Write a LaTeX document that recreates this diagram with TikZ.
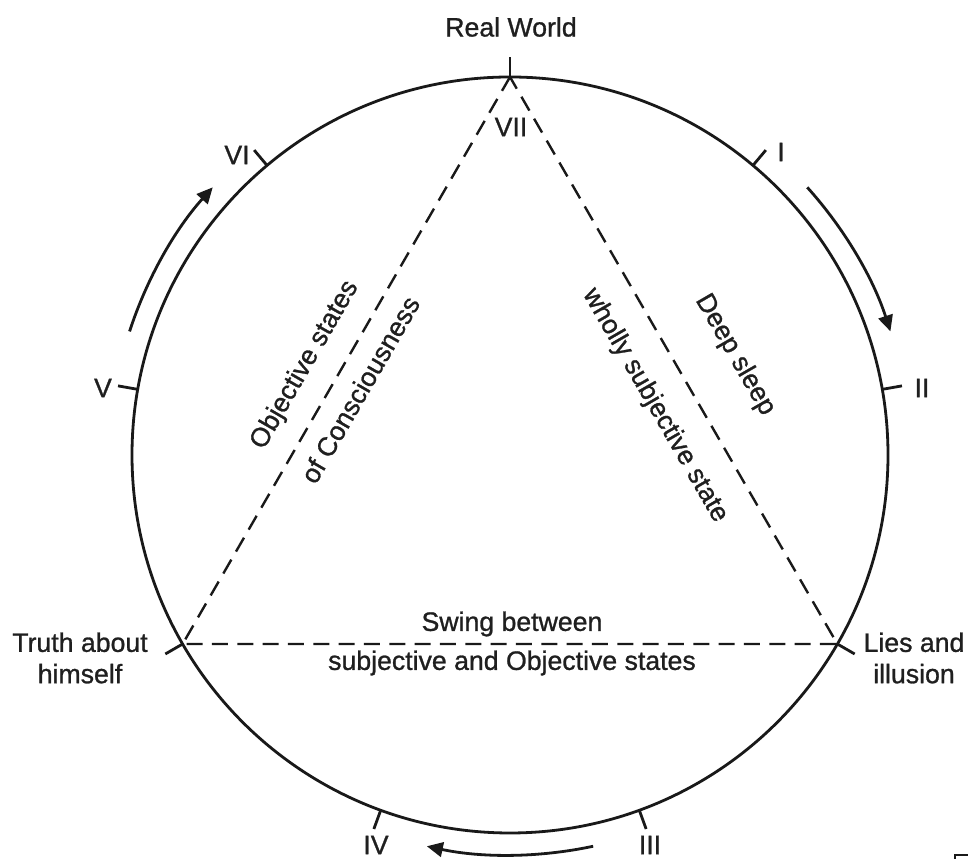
\documentclass[tikz,border=0pt]{standalone}
\usepackage{fontspec}
\setmainfont{Liberation Sans}
\newfontfamily\lblfont{Liberation Sans}[FakeBold=1.0]
\usetikzlibrary{arrows.meta,calc}
\begin{document}
\begin{tikzpicture}[x=0.75pt,y=0.75pt,
 lbl/.style={font=\lblfont\fontsize{20}{23.5}\selectfont, inner sep=0pt, align=center, text=black!88},
 circ/.style={line width=2.1pt, black!90},
 tri/.style={line width=1.8pt, black!90, dash pattern=on 12pt off 7pt},
 tickmark/.style={line width=2.1pt, black!90},
 cyc/.style={line width=2.1pt, black!90, -{Triangle[length=12pt,width=11pt]}}]
\useasboundingbox (0,0) rectangle (968,859);
\coordinate (O) at (510,404);
\draw[circ] (O) circle[radius=378];
% triangle vertices
\coordinate (vT) at ($(O)+(90:378)$);
\coordinate (vL) at ($(O)+(210:378)$);
\coordinate (vR) at ($(O)+(330:378)$);
\draw[tri] (vT) -- (vL) -- (vR) -- cycle;
% ticks
\foreach \a/\n in {10/tII,50/tI,90/tVII,130/tVI,170/tV,210/tTr,250/tIV,290/tIII,330/tLi}{
  \coordinate (\n a) at ($(O)+(\a:378)$);
  \coordinate (\n b) at ($(O)+(\a:398)$);
  \draw[tickmark] (\n a) -- (\n b);
}
% labels
\node[lbl] (real) at (511,832) {Real World};
\node[lbl] (vii) at (511,732) {VII};
\node[lbl] (vi) at (237,704) {VI};
\node[lbl] (i) at (781,707) {I};
\node[lbl] (v) at (103,471) {V};
\node[lbl] (ii) at (922,471) {II};
\node[lbl] (truth) at (80,201) {Truth about\\himself};
\node[lbl] (lies) at (914,201) {Lies and\\illusion};
\node[lbl] (iv) at (376,14) {IV};
\node[lbl] (iii) at (650,14) {III};
\node[lbl] (swing) at (512,235) {Swing between};
\node[lbl] (subj) at (512,196) {subjective and Objective states};
\node[lbl, rotate=60] (obj) at (305,494) {Objective states};
\node[lbl, rotate=60] (cons) at (360,469.5) {of Consciousness};
\node[lbl, rotate=-60] (deep) at (735,504) {Deep sleep};
\node[lbl, rotate=-60] (wholly) at (655,453.5) {wholly subjective state};
% cycle arrows
\coordinate (aLs) at ($(O)+(162:400)$);
\draw[cyc] (aLs) arc[start angle=162,end angle=138,radius=400];
\coordinate (aRs) at ($(O)+(42:400)$);
\draw[cyc] (aRs) arc[start angle=42,end angle=18,radius=400];
\coordinate (aBs) at ($(O)+(282:400)$);
\draw[cyc] (aBs) arc[start angle=282,end angle=258,radius=400];
% clipped fragment at the corner
\coordinate (fa) at (955,0);
\coordinate (fb) at (955,4);
\coordinate (fc) at (968,4);
\draw[line width=2pt, black!90] (fa) -- (fb) -- (fc);
\end{tikzpicture}
\end{document}
